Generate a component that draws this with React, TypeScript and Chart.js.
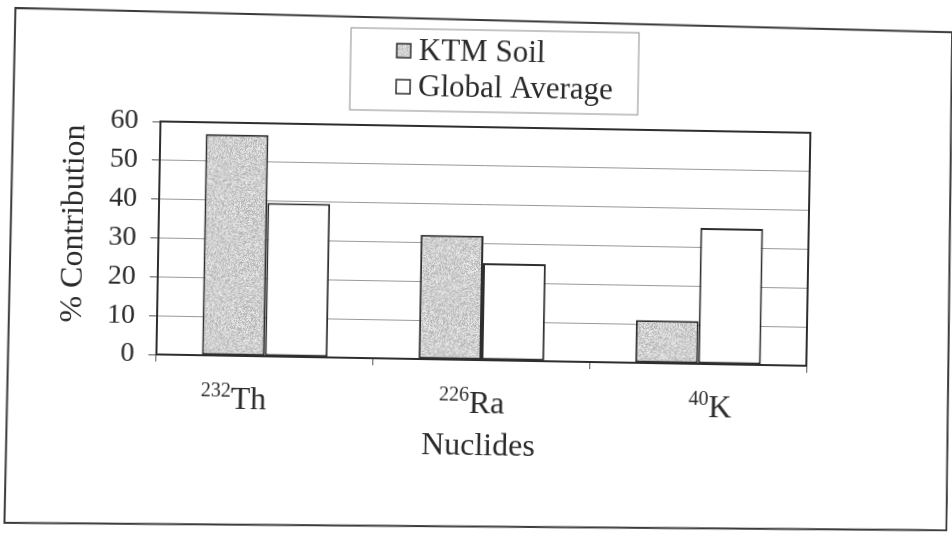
import React, { useEffect, useRef } from "react";
import { Chart, registerables } from "chart.js";

Chart.register(...registerables);

// Nuclide symbols with their mass numbers (drawn as superscripts)
const nuclides = ["Th", "Ra", "K"];
const massNumbers = ["232", "226", "40"];
const categoryLabels = ["232Th", "226Ra", "40K"];

// Percentage contribution of each nuclide
const ktmSoil = [57, 32, 11];
const globalAverage = [39.5, 25, 35];

const seriesNames = ["KTM Soil", "Global Average"];

const yMin = 0;
const yMax = 60;
const yStep = 10;

const yTitle = "% Contribution";
const xTitle = "Nuclides";

const SERIF = '"Liberation Serif", "Times New Roman", serif';
const INK = "#2a2a2a";
const EDGE = "#2e2e2e";

// Speckled grey fill, like a halftone print
function makeGrain(): CanvasPattern | string {
  const size = 96;
  const c = document.createElement("canvas");
  c.width = size;
  c.height = size;
  const g = c.getContext("2d");
  if (!g) return "#cccccc";
  const img = g.createImageData(size, size);
  for (let y = 0; y < size; y++) {
    for (let x = 0; x < size; x++) {
      let h = (x * 374761393 + y * 668265263) | 0;
      h = Math.imul(h ^ (h >>> 13), 1274126177);
      h = (h ^ (h >>> 16)) >>> 0;
      const n = (h & 255) / 255;
      const v = Math.round(176 + n * 62);
      const i = (y * size + x) * 4;
      img.data[i] = v;
      img.data[i + 1] = v;
      img.data[i + 2] = v;
      img.data[i + 3] = 255;
    }
  }
  g.putImageData(img, 0, 0);
  return g.createPattern(c, "repeat") || "#cccccc";
}

const decorations = {
  id: "decorations",
  beforeDraw(chart: any) {
    const { ctx, width, height } = chart;
    ctx.save();
    ctx.fillStyle = "#ffffff";
    ctx.fillRect(0, 0, width, height);
    // outer frame
    ctx.strokeStyle = "#3a3a3a";
    ctx.lineWidth = 2;
    ctx.beginPath();
    ctx.moveTo(11, 16);
    ctx.lineTo(948, 24);
    ctx.lineTo(951, 522);
    ctx.lineTo(9, 531);
    ctx.closePath();
    ctx.stroke();
    ctx.restore();
  },
  afterDraw(chart: any) {
    const { ctx, chartArea: a } = chart;
    const xs = chart.scales.x;
    ctx.save();

    // plot frame
    ctx.strokeStyle = EDGE;
    ctx.lineWidth = 2;
    ctx.strokeRect(a.left, a.top, a.right - a.left, a.bottom - a.top);

    // legend box
    const lx = 347, ly = 30, lw = 288, lh = 82;
    ctx.strokeStyle = "#8c8c8c";
    ctx.lineWidth = 1;
    ctx.strokeRect(lx, ly, lw, lh);
    chart.data.datasets.forEach((ds: any, i: number) => {
      const rowY = 52 + i * 36;
      ctx.fillStyle = ds.backgroundColor;
      ctx.fillRect(393, rowY - 7, 14, 14);
      ctx.strokeStyle = EDGE;
      ctx.lineWidth = 1.5;
      ctx.strokeRect(393, rowY - 7, 14, 14);
      ctx.fillStyle = INK;
      ctx.font = `31px ${SERIF}`;
      ctx.textAlign = "left";
      ctx.textBaseline = "middle";
      ctx.fillText(ds.label, 415, rowY + 1);
    });

    // value axis title
    ctx.save();
    ctx.translate(74, (a.top + a.bottom) / 2 - 13);
    ctx.rotate(-Math.PI / 2);
    ctx.font = `32px ${SERIF}`;
    ctx.textAlign = "center";
    ctx.textBaseline = "middle";
    ctx.fillStyle = INK;
    ctx.fillText(yTitle, 0, 0);
    ctx.restore();

    // category labels with superscript mass numbers
    const mid = (a.left + a.right) / 2;
    const baseY = xs.top + 53;
    ctx.textBaseline = "alphabetic";
    ctx.textAlign = "left";
    nuclides.forEach((sym, i) => {
      const px = xs.getPixelForValue(i);
      const cx = mid + (px - mid) * 1.1 - 9;
      ctx.font = `20px ${SERIF}`;
      const wSup = ctx.measureText(massNumbers[i]).width;
      ctx.font = `32px ${SERIF}`;
      const wSym = ctx.measureText(sym).width;
      const x0 = cx - (wSup + wSym) / 2;
      ctx.fillStyle = INK;
      ctx.font = `20px ${SERIF}`;
      ctx.fillText(massNumbers[i], x0, baseY - 12);
      ctx.font = `32px ${SERIF}`;
      ctx.fillText(sym, x0 + wSup, baseY);
    });

    // category axis title
    ctx.font = `32px ${SERIF}`;
    ctx.textAlign = "center";
    ctx.fillText(xTitle, mid - 2, baseY + 42);
    ctx.restore();
  },
};

export default function App() {
  const canvasRef = useRef<HTMLCanvasElement | null>(null);

  useEffect(() => {
    const canvas = canvasRef.current;
    if (!canvas) return;
    const grain = makeGrain();

    const chart = new Chart(canvas, {
      type: "bar",
      data: {
        labels: categoryLabels,
        datasets: [
          {
            label: seriesNames[0],
            data: ktmSoil,
            backgroundColor: grain as any,
            borderColor: EDGE,
            borderWidth: 2,
            borderSkipped: false,
          },
          {
            label: seriesNames[1],
            data: globalAverage,
            backgroundColor: "#ffffff",
            borderColor: EDGE,
            borderWidth: 2,
            borderSkipped: false,
          },
        ],
      },
      options: {
        responsive: false,
        animation: false,
        devicePixelRatio: 1,
        layout: { padding: { left: 50, right: 144, top: 127, bottom: 20 } },
        datasets: {
          bar: { categoryPercentage: 0.58, barPercentage: 1 },
        },
        plugins: {
          legend: { display: false },
          tooltip: { enabled: false },
        },
        scales: {
          x: {
            ticks: { display: false },
            grid: {
              drawOnChartArea: false,
              drawTicks: true,
              tickLength: 7,
              tickColor: "#555555",
              offset: true,
            },
            border: { color: EDGE, width: 2 },
            afterFit(scale: any) {
              scale.height = 153;
            },
          },
          y: {
            min: yMin,
            max: yMax,
            ticks: {
              stepSize: yStep,
              color: INK,
              font: { family: SERIF, size: 28 },
              padding: 14,
            },
            grid: {
              color: "#999999",
              lineWidth: 1,
              tickLength: 8,
              tickColor: "#555555",
            },
            border: { color: EDGE, width: 2 },
            afterFit(scale: any) {
              scale.width = 108;
            },
          },
        },
      },
      plugins: [decorations],
    });

    return () => chart.destroy();
  }, []);

  return (
    <div
      style={{
        position: "absolute",
        left: 0,
        top: 0,
        width: 952,
        height: 533,
        background: "#ffffff",
        overflow: "hidden",
      }}
    >
      <div style={{ width: 952, height: 533, transform: "rotate(1deg)", transformOrigin: "476px 266px" }}>
        <canvas ref={canvasRef} width={952} height={533} style={{ display: "block" }} />
      </div>
    </div>
  );
}
